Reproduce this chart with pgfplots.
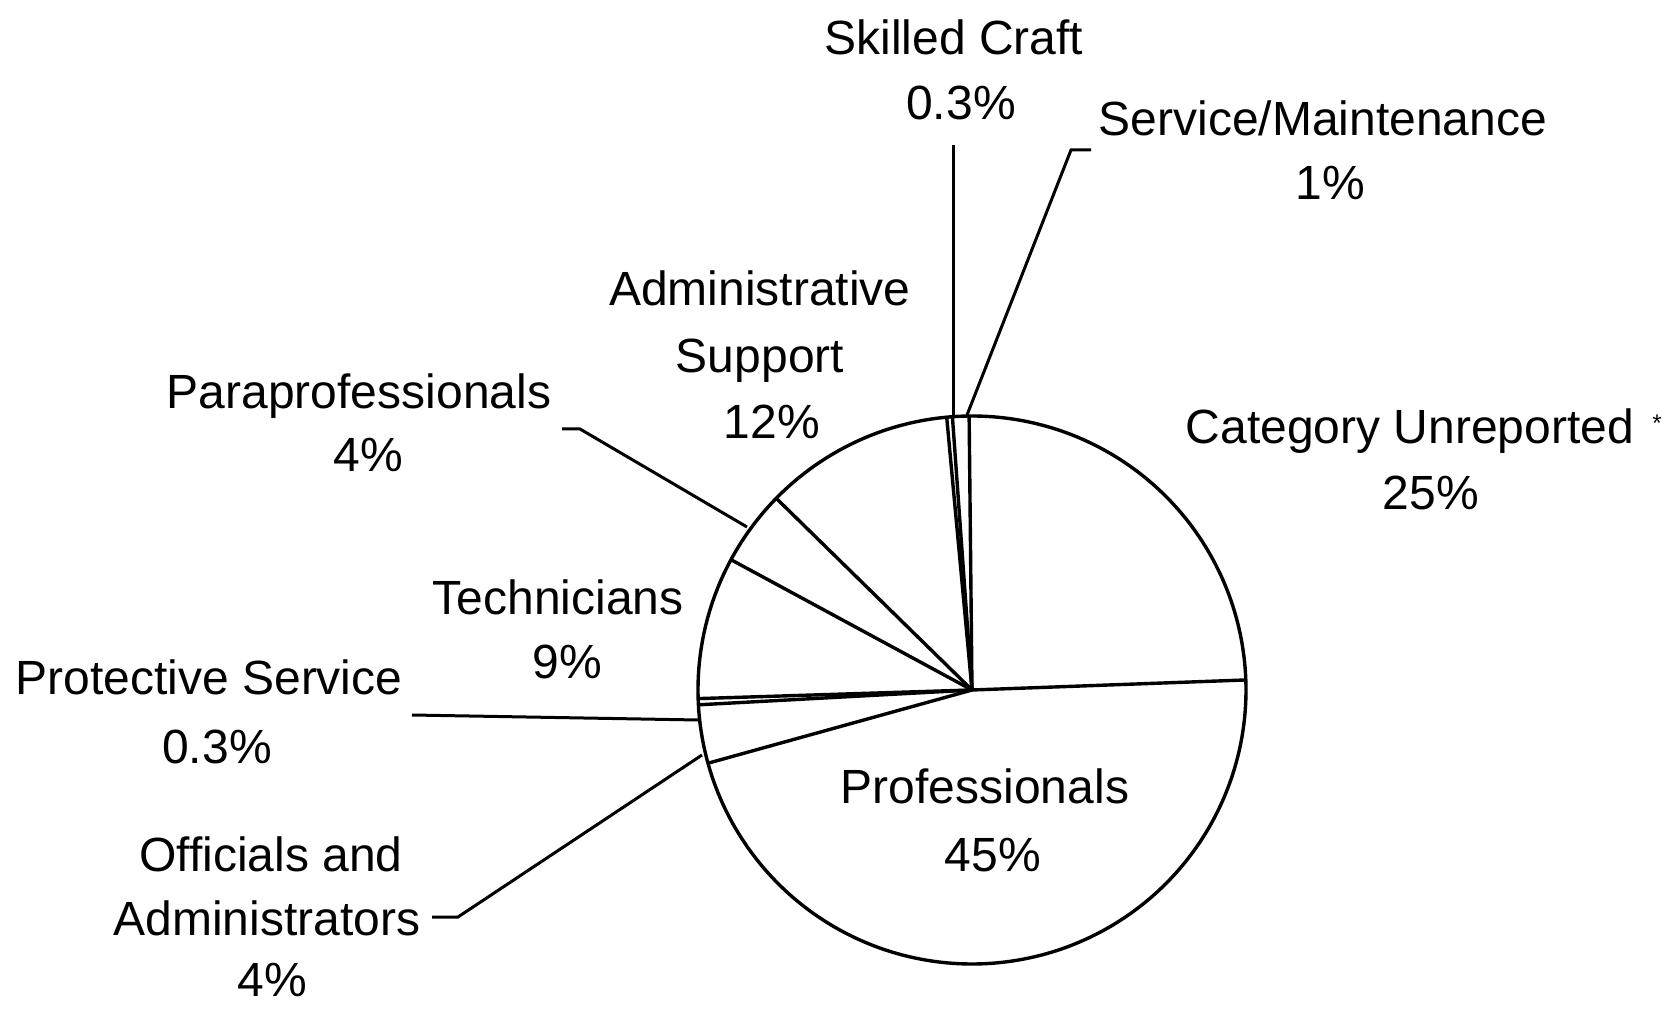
\documentclass[border=0pt]{standalone}
\usepackage{pgfplots}
\pgfplotsset{compat=1.18}
\usepackage{fontspec}
\setmainfont{Liberation Sans}
\begin{document}
\begin{tikzpicture}[font=\fontsize{24}{28}\selectfont]
\useasboundingbox (0,0) rectangle (836pt,504pt);
\begin{axis}[
  anchor=south west, at={(0,0)},
  x=0.5pt, y=0.5pt,
  xmin=-972, xmax=700, ymin=-318, ymax=690,
  hide axis, clip=false,
]
% pie outline (radius 274 px)
\addplot[data cs=polar, domain=0:360, samples=361, line width=1.7pt, black] {274};
% wedge boundaries (angle in degrees, radius)
% Category Unreported 25%: 2.1--90.6 ; Service/Maintenance 1%: 90.6--94.1 ;
% Skilled Craft 0.3%: 94.1--95.3 ; Administrative Support 12%: 95.3--135.6 ;
% Paraprofessionals 4%: 135.6--151.6 ; Technicians 9%: 151.6--181.8 ;
% Protective Service 0.3%: 181.8--183.1 ; Officials and Administrators 4%: 183.1--195.5 ;
% Professionals 45%: 195.5--362.1
\addplot[data cs=polar, line width=1.7pt, black] coordinates {(0,0) (2.1,274)};
\addplot[data cs=polar, line width=1.7pt, black] coordinates {(0,0) (90.6,274)};
\addplot[data cs=polar, line width=1.7pt, black] coordinates {(0,0) (94.1,274)};
\addplot[data cs=polar, line width=1.7pt, black] coordinates {(0,0) (95.3,274)};
\addplot[data cs=polar, line width=1.7pt, black] coordinates {(0,0) (135.6,274)};
\addplot[data cs=polar, line width=1.7pt, black] coordinates {(0,0) (151.6,274)};
\addplot[data cs=polar, line width=1.7pt, black] coordinates {(0,0) (181.8,274)};
\addplot[data cs=polar, line width=1.7pt, black] coordinates {(0,0) (183.1,274)};
\addplot[data cs=polar, line width=1.7pt, black] coordinates {(0,0) (195.5,274)};
% leader lines
\addplot[line width=1.5pt, black] coordinates {(-19,545) (-19,274)};
\addplot[line width=1.5pt, black] coordinates {(119,540) (99,540) (-5,275)};
\addplot[line width=1.5pt, black] coordinates {(-410,261) (-392,261) (-225,163)};
\addplot[line width=1.5pt, black] coordinates {(-560,-25) (-274,-30)};
\addplot[line width=1.5pt, black] coordinates {(-540,-227) (-514,-227) (-270,-65)};
% labels
\node[anchor=base, inner sep=0] at (axis cs:-18,635) {Skilled Craft};
\node[anchor=base, inner sep=0] at (axis cs:-11,570) {0.3\%};
\node[anchor=base, inner sep=0] at (axis cs:351,554) {Service/Maintenance};
\node[anchor=base, inner sep=0] at (axis cs:358,490) {1\%};
\node[anchor=base, inner sep=0] at (axis cs:-212,384) {Administrative};
\node[anchor=base, inner sep=0] at (axis cs:-212,317) {Support};
\node[anchor=base, inner sep=0] at (axis cs:-200,251) {12\%};
\node[anchor=base, inner sep=0] at (axis cs:-613,281) {Paraprofessionals};
\node[anchor=base, inner sep=0] at (axis cs:-604,218) {4\%};
\node[anchor=base, inner sep=0] at (axis cs:438,246) {Category Unreported};
\node[anchor=base, inner sep=0, font=\fontsize{12}{14}\selectfont] at (axis cs:685,258) {*};
\node[anchor=base, inner sep=0] at (axis cs:459,180) {25\%};
\node[anchor=base, inner sep=0] at (axis cs:-414,75) {Technicians};
\node[anchor=base, inner sep=0] at (axis cs:-405,11) {9\%};
\node[anchor=base, inner sep=0] at (axis cs:-763,-5) {Protective Service};
\node[anchor=base, inner sep=0] at (axis cs:-755,-74) {0.3\%};
\node[anchor=base, inner sep=0] at (axis cs:13,-113) {Professionals};
\node[anchor=base, inner sep=0] at (axis cs:21,-181) {45\%};
\node[anchor=base, inner sep=0] at (axis cs:-701,-181) {Officials and};
\node[anchor=base, inner sep=0] at (axis cs:-705,-245) {Administrators};
\node[anchor=base, inner sep=0] at (axis cs:-700,-306) {4\%};
\end{axis}
\end{tikzpicture}
\end{document}
